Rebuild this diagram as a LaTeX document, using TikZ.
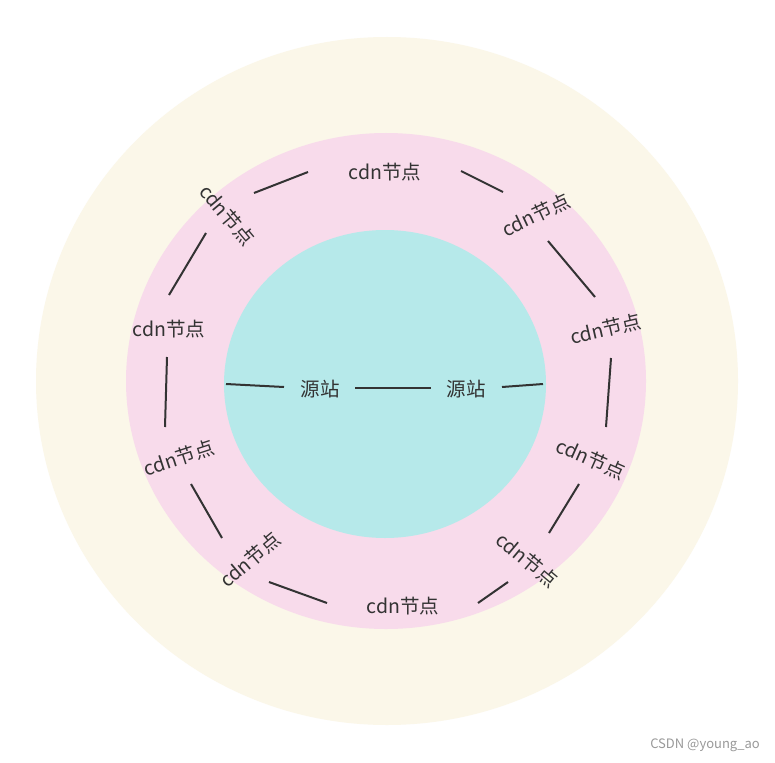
\documentclass[tikz,border=0pt]{standalone}
\usepackage{fontspec}
\setmainfont{Noto Sans CJK SC}
\usepackage{tikz}
\usetikzlibrary{calc}
\definecolor{ringout}{HTML}{FBF7E9}
\definecolor{ringmid}{HTML}{F8DBEB}
\definecolor{ringin}{HTML}{B6E9EA}
\definecolor{inkgray}{HTML}{333333}

\begin{document}
\begin{tikzpicture}[x=1pt, y=1pt,
	cdnnode/.style={font=\fontsize{19.5}{19.5}\selectfont, text=inkgray, inner sep=0pt},
	link/.style={draw=inkgray, line width=2pt}]
		\useasboundingbox (0,0) rectangle (775,-762);
		\fill[white] (0,0) rectangle (775,-762);
		% rings
		\fill[ringout] (387,-381) ellipse [x radius=351, y radius=344];
		\fill[ringmid] (386,-381) ellipse [x radius=260, y radius=248];
		\fill[ringin] (385,-384) ellipse [x radius=161, y radius=154];
		% cdn nodes on the ring
		\node[cdnnode, rotate=-50] (tl) at (227,-215) {cdn节点};
		\node[cdnnode] (t) at (385,-172) {cdn节点};
		\node[cdnnode, rotate=25] (tr) at (536,-215) {cdn节点};
		\node[cdnnode, rotate=13] (r) at (606,-329) {cdn节点};
		\node[cdnnode, rotate=-24] (rl) at (591,-459) {cdn节点};
		\node[cdnnode, rotate=-40] (lr) at (527,-560) {cdn节点};
		\node[cdnnode] (b) at (403,-606) {cdn节点};
		\node[cdnnode, rotate=40] (ll) at (250,-560) {cdn节点};
		\node[cdnnode, rotate=18] (lll) at (179,-458) {cdn节点};
		\node[cdnnode] (l) at (169,-329) {cdn节点};
		% origin nodes
		\node[cdnnode] (so1) at (320,-389) {源站};
		\node[cdnnode] (so2) at (466,-389) {源站};
		\coordinate (cw) at (226,-384);
		\coordinate (ce) at (543,-384);
		% ring links
		\draw[link] ($(tl)+(27,22)$) -- ($(t)+(-77,0)$);
		\draw[link] ($(t)+(76,1)$) -- ($(tr)+(-33,23)$);
		\draw[link] ($(tr)+(12,-26)$) -- ($(r)+(-11,32)$);
		\draw[link] ($(r)+(5,-29)$) -- ($(rl)+(15,32)$);
		\draw[link] ($(rl)+(-12,-25)$) -- ($(lr)+(22,27)$);
		\draw[link] ($(lr)+(-19,-22)$) -- ($(b)+(75,3)$);
		\draw[link] ($(b)+(-76,3)$) -- ($(ll)+(19,-22)$);
		\draw[link] ($(ll)+(-28,22)$) -- ($(lll)+(12,-26)$);
		\draw[link] ($(lll)+(-14,31)$) -- ($(l)+(-2,-28)$);
		\draw[link] ($(l)+(0,34)$) -- ($(tl)+(-21,-18)$);
		% center links
		\draw[link] (cw) -- ($(so1)+(-36,2)$);
		\draw[link] ($(so1)+(35,1)$) -- ($(so2)+(-35,1)$);
		\draw[link] ($(so2)+(36,2)$) -- (ce);
		\node[font=\fontsize{13}{13}\selectfont, text=gray!80] (mark) at (705,-745) {CSDN @young\_ao};
	\end{tikzpicture}
\end{document}
